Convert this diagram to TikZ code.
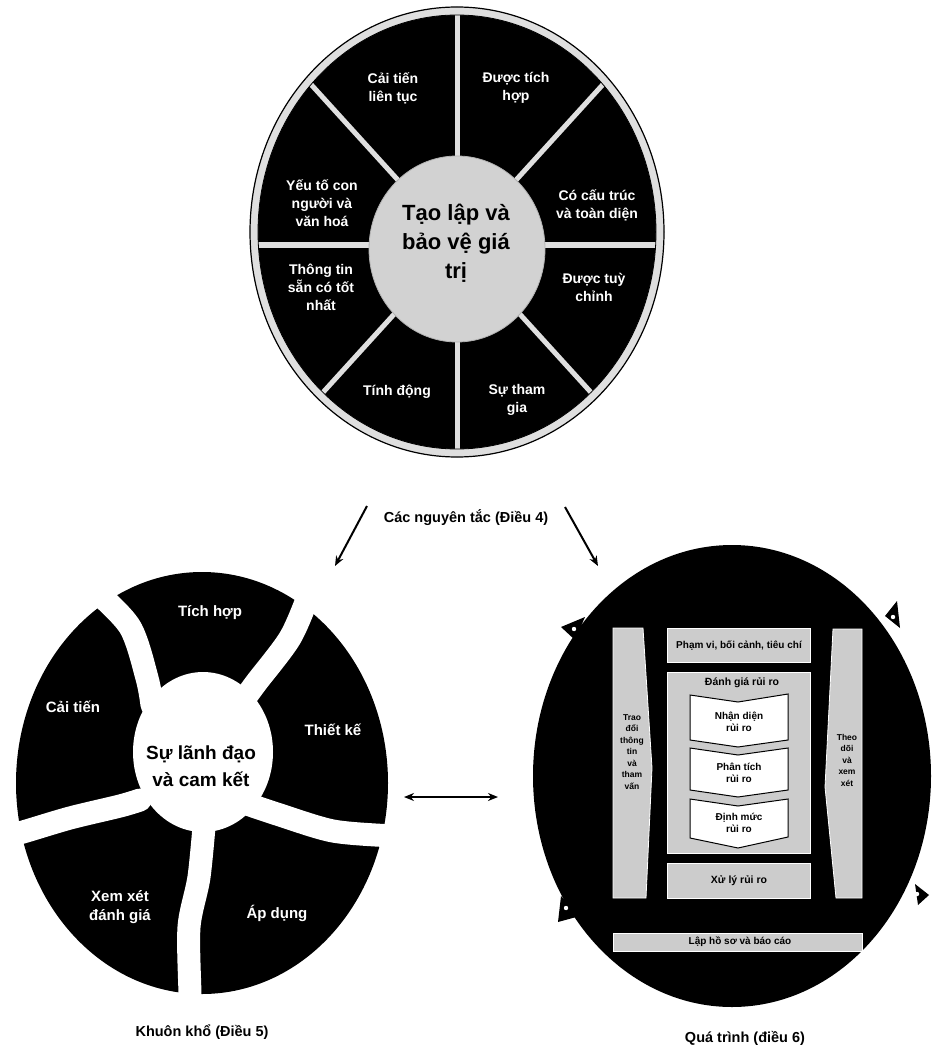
\documentclass[tikz,border=0pt]{standalone}
\usepackage{fontspec}
\setmainfont{Liberation Sans}
\usetikzlibrary{arrows.meta}
\begin{document}
\begin{tikzpicture}[x=1pt,y=-1pt,
  wlab/.style={text=white,font=\fontsize{14}{18}\selectfont\bfseries,align=center},
  flab/.style={text=white,font=\fontsize{15}{19}\selectfont\bfseries,align=center},
  captext/.style={font=\fontsize{14.5}{18}\selectfont\bfseries},
  divider/.style={draw=gray!25,line width=5},
  gapline/.style={draw=white,line width=23,line cap=round},
  procbox/.style={fill=gray!40,draw=white,line width=0.8},
  ptext/.style={font=\fontsize{10}{12}\selectfont\bfseries,align=center,text=black},
  chev/.style={fill=white,draw=black,line width=1},
  conn/.style={line width=2,-{Stealth[length=10,width=8]}},
  rimtip/.style={fill=black}]
\useasboundingbox (0,0) rectangle (933,1059);
\fill[white] (0,0) rectangle (933,1059);

% ---------------- principles wheel ----------------
\coordinate (tc) at (457,232);
\coordinate (hub) at (457,245);
\fill[black] (tc) ellipse [x radius=207,y radius=225];
\begin{scope}
  \clip (tc) ellipse [x radius=200,y radius=218];
  \foreach \a in {0,45,...,315} \draw[divider] (hub) -- ++(\a:300 and 330);
\end{scope}
\fill[gray!25,even odd rule] (tc) ellipse [x radius=207,y radius=225]
  (tc) ellipse [x radius=199,y radius=217];
\draw[black,line width=1.2] (tc) ellipse [x radius=207,y radius=225];
\draw[black,line width=0.8] (tc) ellipse [x radius=199,y radius=217];
\fill[gray!35] (457,249) ellipse [x radius=88,y radius=93];
\draw[gray!60,line width=0.8] (457,249) ellipse [x radius=88,y radius=93];
\node[font=\fontsize{22}{29}\selectfont\bfseries,align=center] (core) at (456,243) {Tạo lập và\\bảo vệ giá\\trị};

\node[wlab] (p1) at (393,88) {Cải tiến\\liên tục};
\node[wlab] (p2) at (516,88) {Được tích\\hợp};
\node[wlab] (p3) at (597,205) {Có cấu trúc\\và toàn diện};
\node[wlab] (p4) at (594,287) {Được tuỳ\\chỉnh};
\node[wlab] (p5) at (517,400) {Sự tham\\gia};
\node[wlab] (p6) at (397,392) {Tính động};
\node[wlab] (p7) at (321,287) {Thông tin\\sẵn có tốt\\nhất};
\node[wlab] (p8) at (322,203) {Yếu tố con\\người và\\văn hoá};

\node[captext] (princ) at (466,518) {Các nguyên tắc (Điều 4)};
\coordinate (aLs) at (367,506);
\coordinate (aLe) at (335,566);
\coordinate (aRs) at (565,507);
\coordinate (aRe) at (598,566);
\draw[conn] (aLs) -- (aLe);
\draw[conn] (aRs) -- (aRe);

% ---------------- framework wheel ----------------
\coordinate (fc) at (202,783);
\fill[black] (fc) ellipse [x radius=186,y radius=211];
\fill[white] (203,752) ellipse [x radius=70,y radius=80];
\draw[gapline] plot[smooth] coordinates {(240,705) (256,683) (290,638) (310,592) (322,560)};
\draw[gapline] plot[smooth] coordinates {(250,805) (280,815) (333,831) (392,836) (415,837)};
\draw[gapline] plot[smooth] coordinates {(205,815) (199,877) (189,927) (190,995) (190,1015)};
\draw[gapline] plot[smooth] coordinates {(140,800) (120,806) (70,818) (23,832) (0,838)};
\draw[gapline] plot[smooth] coordinates {(152,705) (147,678) (130,627) (92,587) (72,565)};

\node[font=\fontsize{19}{27}\selectfont\bfseries,align=center] (lead) at (201,766) {Sự lãnh đạo\\và cam kết};
\node[flab] (f1) at (210,613) {Tích hợp};
\node[flab] (f2) at (333,730) {Thiết kế};
\node[flab] (f3) at (277,913) {Áp dụng};
\node[flab] (f4) at (120,907) {Xem xét\\đánh giá};
\node[flab] (f5) at (73,707) {Cải tiến};
\node[captext] (fcap) at (202,1032) {Khuôn khổ (Điều 5)};

% double arrow
\coordinate (dL) at (404,797);
\coordinate (dR) at (498,797);
\draw[line width=2,{Stealth[length=10,width=8]}-{Stealth[length=10,width=8]}] (dL) -- (dR);

% ---------------- process wheel ----------------
\coordinate (pc) at (732,776);
\fill[black] (pc) ellipse [x radius=199,y radius=231];
% rim arrow tips
\fill[rimtip] (561,627) -- (585,617) -- (575,640) -- cycle;
\fill[white] (574,629) circle (2.2);
\fill[rimtip] (561,896) -- (558,922) -- (580,916) -- cycle;
\fill[white] (566,908) circle (2.2);
\fill[rimtip] (897,601) -- (885,616) -- (900,628) -- cycle;
\fill[white] (893,617) circle (2.2);
\fill[rimtip] (929,895) -- (915,884) -- (918,905) -- cycle;
\fill[white] (917,894) circle (2.2);

% columns
\path[procbox] (613,628) -- (643,628) -- (652,768) -- (646,898) -- (613,898) -- cycle;
\path[procbox] (833,629) -- (862,629) -- (862,898) -- (836,898) -- (825,787) -- cycle;
\node[ptext,font=\fontsize{8.5}{11.5}\selectfont\bfseries] (comm) at (632,752) {Trao\\đổi\\thông\\tin\\và\\tham\\vấn};
\node[ptext,font=\fontsize{8.5}{11.5}\selectfont\bfseries] (mon) at (847,760) {Theo\\dõi\\và\\xem\\xét};

% top box
\path[procbox] (667,628) rectangle (810,662);
\node[ptext] (scope) at (739,646) {Phạm vi, bối cảnh, tiêu chí};
% assessment box
\path[procbox] (667,672) rectangle (810,853);
\node[ptext,font=\fontsize{10.5}{12}\selectfont\bfseries] (assess) at (742,683) {Đánh giá rủi ro};
\path[chev] (690,695) -- (738,702) -- (788,694) -- (788,740) -- (738,747) -- (690,740) -- cycle;
\path[chev] (690,748) -- (738,755) -- (788,748) -- (788,790) -- (738,797) -- (690,790) -- cycle;
\path[chev] (690,799) -- (738,806) -- (788,799) -- (788,837) -- (738,848) -- (690,838) -- cycle;
\node[ptext] (ident) at (739,722) {Nhận diện\\rủi ro};
\node[ptext] (anal) at (739,773) {Phân tích\\rủi ro};
\node[ptext] (eval) at (739,823) {Định mức\\rủi ro};
% treatment
\path[procbox] (667,863) rectangle (810,898);
\node[ptext,font=\fontsize{10.5}{12}\selectfont\bfseries] (treat) at (739,881) {Xử lý rủi ro};
% recording
\path[procbox] (613,933) rectangle (862,951);
\node[ptext] (rec) at (740,942) {Lập hồ sơ và báo cáo};

\node[captext] (pcap) at (745,1038) {Quá trình (điều 6)};
\end{tikzpicture}
\end{document}
